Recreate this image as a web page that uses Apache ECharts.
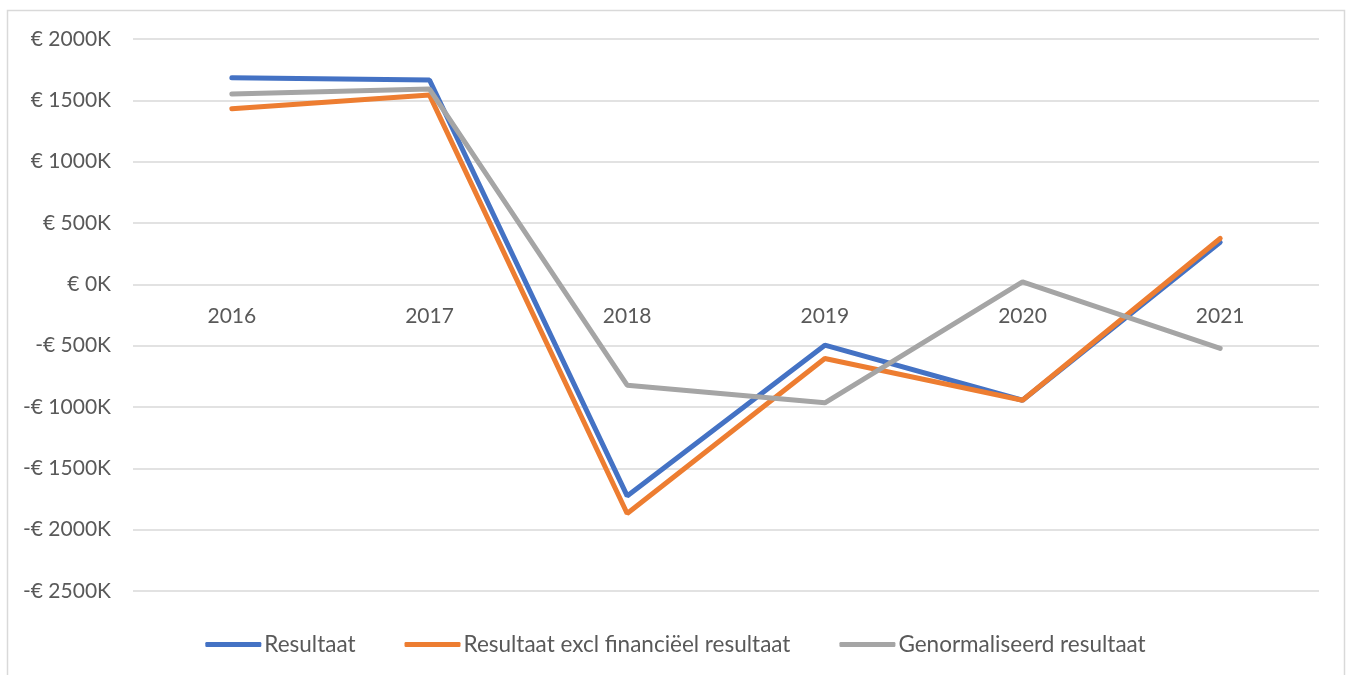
<!DOCTYPE html>
<html>
<head>
<meta charset="utf-8">
<script src="https://cdn.jsdelivr.net/npm/echarts@6/dist/echarts.min.js"></script>
<style>
  html, body { margin: 0; padding: 0; background: #fff; }
  #chart { width: 1351px; height: 675px; }
</style>
</head>
<body>
<div id="chart"></div>
<script>
// jaren en resultaten (x 1000 euro)
const years = ['2016', '2017', '2018', '2019', '2020', '2021'];
const resultaat = [1684, 1666, -1725, -496, -945, 342];
const resultaatExclFin = [1431, 1543, -1868, -605, -945, 374];
const genormaliseerd = [1551, 1592, -822, -966, 20, -523];
const seriesNames = ['Resultaat', 'Resultaat excl financiëel resultaat', 'Genormaliseerd resultaat'];
const colors = ['#4472C4', '#ED7D31', '#A5A5A5'];

const font = 'Lato, "Open Sans", sans-serif';
const textColor = '#595959';

function euroLabel(v) {
  if (v < 0) return '-€ ' + (-v) + 'K';
  return '€ ' + v + 'K';
}

const chart = echarts.init(document.getElementById('chart'));

const option = {
  animation: false,
  color: colors,
  textStyle: { fontFamily: font },
  graphic: [{
    type: 'rect',
    shape: { x: 7.5, y: 10.5, width: 1337, height: 700 },
    style: { fill: 'none', stroke: '#D9D9D9', lineWidth: 1.5 },
    silent: true
  }],
  grid: { left: 133, right: 32, top: 39, bottom: 84 },
  legend: {
    top: 628,
    left: 'center',
    icon: 'roundRect',
    itemWidth: 56,
    itemHeight: 5,
    itemGap: 49,
    textStyle: { color: textColor, fontSize: 22.5, fontFamily: font, padding: [0, 0, 0, -2] },
    data: seriesNames
  },
  xAxis: {
    type: 'category',
    data: years,
    boundaryGap: true,
    position: 'bottom',
    // de jaartallen staan direct onder de nullijn
    offset: -307,
    axisLine: { onZero: false, show: false },
    axisTick: { show: false },
    axisLabel: { color: textColor, fontSize: 21, margin: 22, fontFamily: font }
  },
  yAxis: {
    type: 'value',
    min: -2500,
    max: 2000,
    interval: 500,
    axisLine: { show: false },
    axisTick: { show: false },
    splitLine: { lineStyle: { color: '#D9D9D9', width: 1.5 } },
    axisLabel: {
      color: textColor, fontSize: 21, margin: 22, fontFamily: font,
      formatter: euroLabel
    }
  },
  series: [
    {
      name: seriesNames[0], type: 'line', data: resultaat,
      symbol: 'none', lineStyle: { width: 5, cap: 'round' }
    },
    {
      name: seriesNames[1], type: 'line', data: resultaatExclFin,
      symbol: 'none', lineStyle: { width: 5, cap: 'round' }
    },
    {
      name: seriesNames[2], type: 'line', data: genormaliseerd,
      symbol: 'none', lineStyle: { width: 5, cap: 'round' }
    }
  ]
};

chart.setOption(option);
</script>
</body>
</html>
